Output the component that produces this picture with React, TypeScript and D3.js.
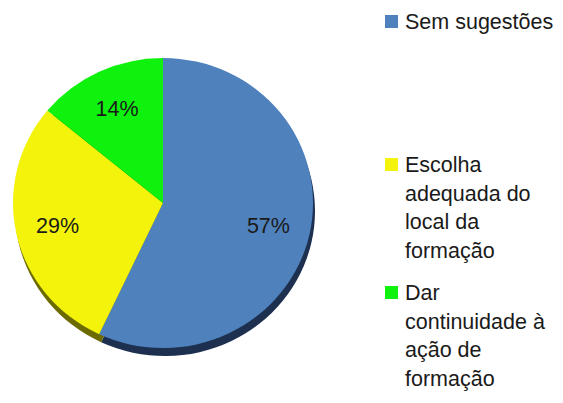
import * as d3 from "d3";

const categories = ["Sem sugestões", "Escolha adequada do local da formação", "Dar continuidade à ação de formação"];
const values = [57, 29, 14];
const pctLabels = ["57%", "29%", "14%"];
const legendLines = [
    ["Sem sugestões"],
    ["Escolha", "adequada do", "local da", "formação"],
    ["Dar", "continuidade à", "ação de", "formação"],
];
const colors = ["#4f81bd", "#f3f30b", "#0ef20e"];
const darkColors = ["#1e3050", "#6b6b00", "#056b05"];

function App() {
    const width = 563;
    const height = 403;
    const cx = 163;
    const cy = 203;
    const rx = 150;
    const ry = 145;
    const depth = 8;

    const pie = d3.pie<number>().sort(null).value(d => d)(values);
    const arc = d3.arc<d3.PieArcDatum<number>>().innerRadius(0).outerRadius(rx);
    const labelArc = d3.arc<d3.PieArcDatum<number>>().innerRadius(rx * 0.72).outerRadius(rx * 0.72);

    const font = "'Liberation Sans', Arial, sans-serif";
    const lineH = 28.7;
    const legendTop = [29, 172, 300];

    return (
        <svg width={width} height={height} viewBox={`0 0 ${width} ${height}`}
             style={{position: "absolute", left: 0, top: 0, background: "white"}}>
            {/* extruded edge */}
            <g transform={`translate(${cx + 2},${cy + depth}) scale(1,${ry / rx})`}>
                {pie.map((p, i) =>
                    <path key={i} d={arc(p) || ""} fill={darkColors[i]}/>
                )}
            </g>
            <g transform={`translate(${cx},${cy}) scale(1,${ry / rx})`}>
                {pie.map((p, i) =>
                    <path key={i} d={arc(p) || ""} fill={colors[i]}/>
                )}
            </g>
            {pie.map((p, i) => {
                const [lx, ly] = labelArc.centroid(p);
                return (
                    <text key={i} x={cx + lx} y={cy + ly * ry / rx} textAnchor="middle" dy="0.35em"
                          fontFamily={font} fontSize={21.5} fill="#1a1a1a">{pctLabels[i]}</text>
                );
            })}
            {categories.map((c, i) =>
                <g key={c}>
                    <rect x={385} y={legendTop[i] - 14} width={13} height={13} fill={colors[i]}/>
                    {legendLines[i].map((line, j) =>
                        <text key={j} x={405} y={legendTop[i] + j * lineH} fontFamily={font} fontSize={21.5}
                              fill="#1a1a1a">{line}</text>
                    )}
                </g>
            )}
        </svg>
    );
}

export default App;
